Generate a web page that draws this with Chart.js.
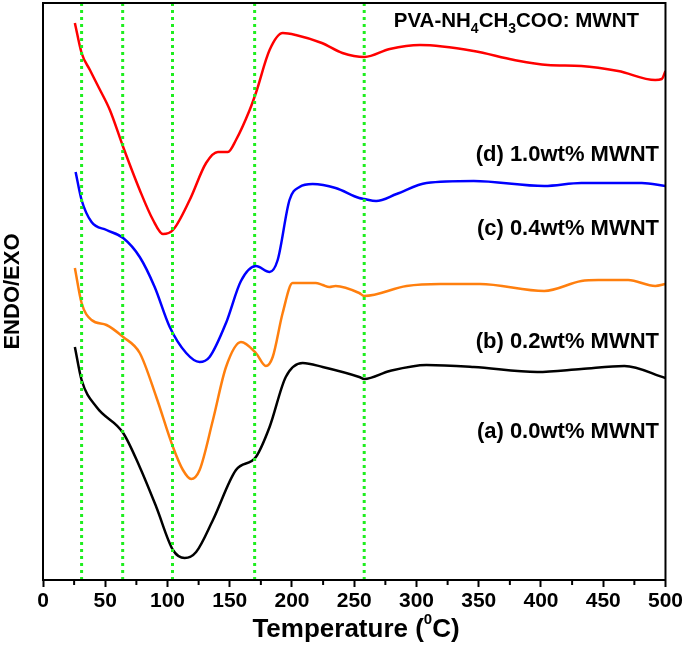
<!DOCTYPE html>
<html>
<head>
<meta charset="utf-8">
<script src="https://cdn.jsdelivr.net/npm/chart.js@4/dist/chart.umd.min.js"></script>
<style>
  html, body { margin: 0; padding: 0; background: white; }
</style>
</head>
<body>
<canvas id="dscChart" width="685" height="646"></canvas>
<script>
// DSC curves, temperature (C) vs ENDO/EXO (arbitrary units, stacked)
const tempA = [25.6, 31, 43, 64.4, 77.7, 91, 104.4, 113.8, 123, 136.5, 155, 171, 182, 195, 208.6, 224.6, 254, 258, 278.5, 308, 346, 397, 432.4, 467, 500];
const endoA = [233, 200, 173, 147, 113, 73, 30, 22, 28, 60, 110, 123, 153, 203, 217, 213, 203, 201, 209, 215, 213, 208, 211, 214, 202];

const tempB = [25.6, 31, 39, 51, 64.4, 77.7, 91, 104.4, 112.4, 119, 125.8, 136.5, 147, 159, 171, 179, 184.5, 192.5, 200.5, 219, 224.6, 230, 235, 254, 258, 292, 319, 351, 402.6, 432.4, 446, 470, 491.8, 500];
const endoB = [312, 277, 260, 255, 243, 227, 183, 133, 110, 101, 110, 160, 213, 238, 227, 214, 223, 267, 297, 297, 295, 293, 294, 287, 284, 294, 296, 296, 289, 299, 300, 300, 294, 296];

const tempC = [26.2, 31, 39, 51, 64.4, 77.7, 89.7, 101.8, 115, 125.8, 133.8, 147, 159, 171, 182, 188.5, 198, 206, 216.6, 235, 254, 258, 267.6, 284, 308, 346, 402.6, 432.4, 481, 500];
const endoC = [408, 380, 358, 350, 342, 323, 293, 253, 227, 218, 223, 257, 299, 314, 308, 320, 380, 393, 396, 392, 382, 381, 379, 386, 397, 399, 394, 397, 397, 394];

const tempD = [25.6, 31, 37.7, 45, 53.7, 64.4, 77.7, 88.4, 96.4, 104.4, 117.8, 131, 140.5, 148.5, 155, 166, 171, 182, 192.6, 203, 224, 240.5, 258.3, 278.5, 302.8, 346, 378.5, 405.4, 432.4, 462, 491.8, 497, 500];
const endoD = [557, 527, 510, 492, 470, 433, 390, 360, 346, 350, 380, 417, 428, 428, 440, 470, 487, 530, 547, 545, 537, 527, 523, 531, 535, 529, 520, 515, 514, 509, 500, 501, 509];

// guide lines at transition temperatures
const guideTemps = [31, 64, 104, 170, 258];

const xTicks = [0, 50, 100, 150, 200, 250, 300, 350, 400, 450, 500];

const curveLabels = ['(d) 1.0wt% MWNT', '(c) 0.4wt% MWNT', '(b) 0.2wt% MWNT', '(a) 0.0wt% MWNT'];

const FONT = '"Liberation Sans", Arial, sans-serif';

function pts(xs, ys) {
    return xs.map((x, i) => ({ x: x, y: ys[i] }));
}

const guideSets = guideTemps.map(t => ({
    data: [{ x: t, y: 0 }, { x: t, y: 577 }],
    borderColor: '#1fee1f',
    borderWidth: 3,
    borderDash: [3, 4],
    pointRadius: 0
}));

const curveSets = [
    { data: pts(tempD, endoD), borderColor: '#ff0000' },
    { data: pts(tempC, endoC), borderColor: '#0000ff' },
    { data: pts(tempB, endoB), borderColor: '#ff7f0e' },
    { data: pts(tempA, endoA), borderColor: '#000000' }
].map(d => Object.assign(d, { borderWidth: 2.5, pointRadius: 0, cubicInterpolationMode: 'monotone' }));

// frame, minor ticks, text labels
const decorPlugin = {
    id: 'decor',
    afterDraw(chart) {
        const ctx = chart.ctx;
        const a = chart.chartArea;
        const xs = chart.scales.x;
        ctx.save();
        ctx.strokeStyle = '#000';
        ctx.lineWidth = 2;
        ctx.strokeRect(a.left, a.top, a.right - a.left, a.bottom - a.top);

        // minor ticks
        for (let v = 25; v < 500; v += 50) {
            const px = xs.getPixelForValue(v);
            ctx.beginPath();
            ctx.moveTo(px, a.bottom);
            ctx.lineTo(px, a.bottom + 5);
            ctx.stroke();
        }

        ctx.fillStyle = '#000';
        ctx.textBaseline = 'middle';

        // top title with subscripts
        const parts = [['PVA-NH', 0], ['4', 1], ['CH', 0], ['3', 1], ['COO: MWNT', 0]];
        let total = 0;
        parts.forEach(p => {
            ctx.font = p[1] ? 'bold 14px ' + FONT : 'bold 20.5px ' + FONT;
            total += ctx.measureText(p[0]).width;
        });
        let cx = 639 - total;
        ctx.textAlign = 'left';
        parts.forEach(p => {
            ctx.font = p[1] ? 'bold 14px ' + FONT : 'bold 20.5px ' + FONT;
            ctx.fillText(p[0], cx, p[1] ? 29 : 21);
            cx += ctx.measureText(p[0]).width;
        });

        // curve labels
        const labelY = [155, 229, 342, 432];
        ctx.font = 'bold 22px ' + FONT;
        ctx.textAlign = 'right';
        curveLabels.forEach((t, i) => ctx.fillText(t, 659, labelY[i]));

        // x axis title with superscript
        const xp = [['Temperature (', 0], ['0', 1], ['C)', 0]];
        total = 0;
        xp.forEach(p => {
            ctx.font = p[1] ? 'bold 15px ' + FONT : 'bold 26px ' + FONT;
            total += ctx.measureText(p[0]).width;
        });
        cx = 356 - total / 2;
        ctx.textAlign = 'left';
        ctx.textBaseline = 'alphabetic';
        xp.forEach(p => {
            ctx.font = p[1] ? 'bold 15px ' + FONT : 'bold 26px ' + FONT;
            ctx.fillText(p[0], cx, p[1] ? 624 : 637);
            cx += ctx.measureText(p[0]).width;
        });
        ctx.restore();
    }
};

new Chart(document.getElementById('dscChart'), {
    type: 'line',
    data: { datasets: guideSets.concat(curveSets) },
    options: {
        responsive: false,
        animation: false,
        layout: { padding: { left: 0, right: 18, top: 3, bottom: 0 } },
        plugins: { legend: { display: false }, tooltip: { enabled: false } },
        scales: {
            x: {
                type: 'linear',
                min: 0,
                max: 500,
                afterBuildTicks: s => { s.ticks = xTicks.map(v => ({ value: v })); },
                afterFit: s => { s.height = 66; },
                ticks: { color: '#000', font: { family: FONT, size: 21, weight: 'bold' }, padding: 2, maxRotation: 0 },
                grid: { drawOnChartArea: false, drawTicks: true, tickLength: 7, tickWidth: 2, tickColor: '#000' },
                border: { display: true, color: '#000', width: 2 }
            },
            y: {
                min: 0,
                max: 577,
                afterFit: s => { s.width = 43; },
                ticks: { display: false },
                grid: { display: false },
                border: { display: true, color: '#000', width: 2 },
                title: { display: true, text: 'ENDO/EXO', color: '#000', padding: 0, font: { family: FONT, size: 22, weight: 'bold' } }
            }
        }
    },
    plugins: [decorPlugin]
});
</script>
</body>
</html>
